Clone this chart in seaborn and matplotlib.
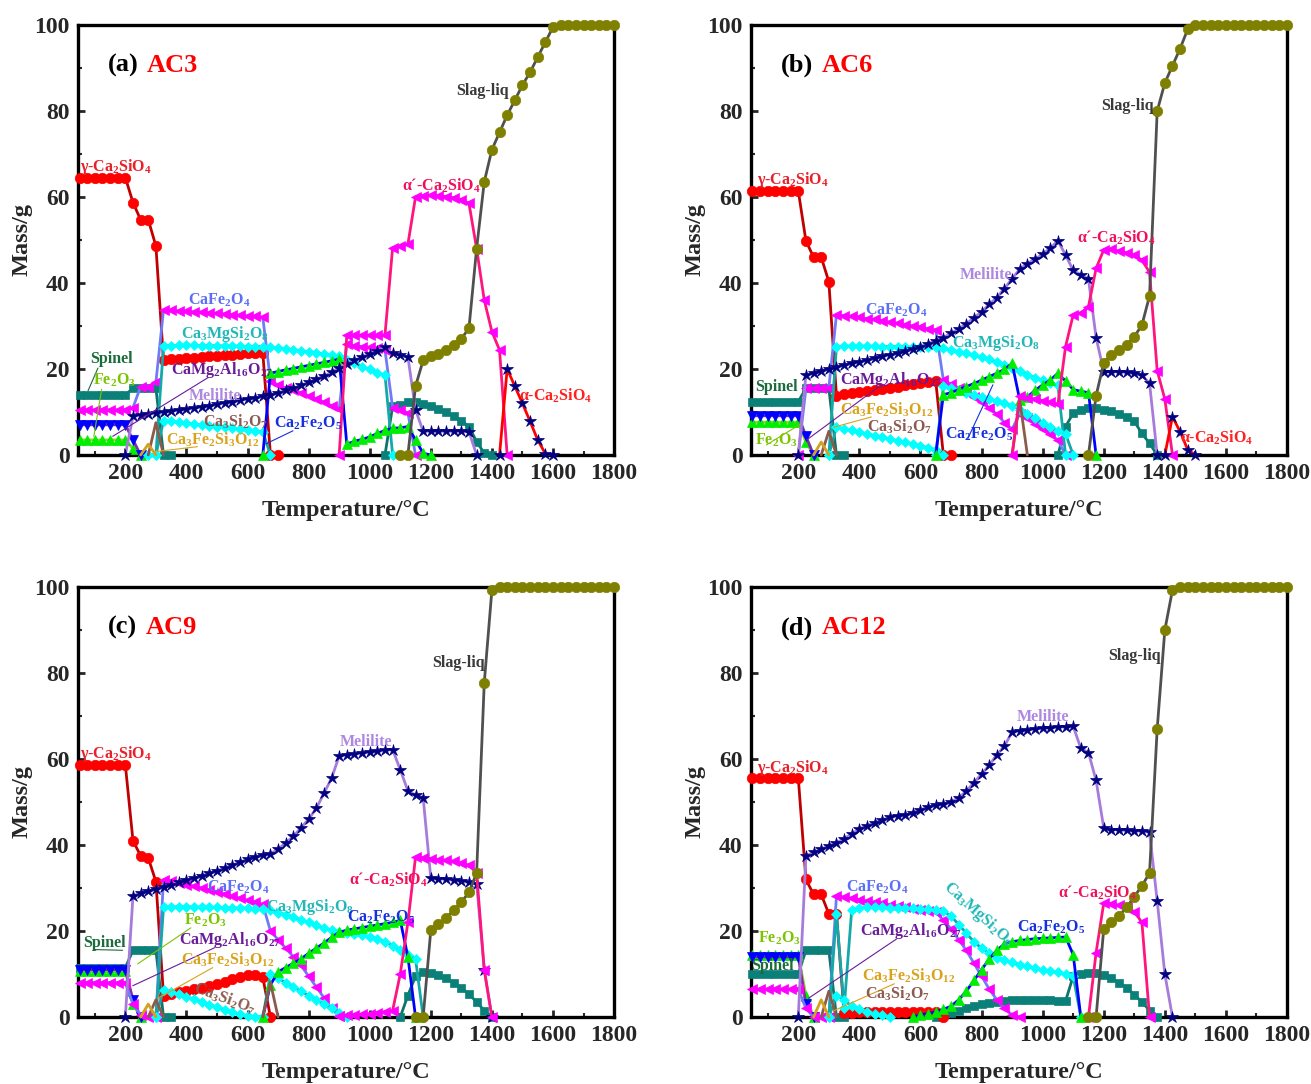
import matplotlib
matplotlib.use('Agg')
import matplotlib.pyplot as plt
from matplotlib.ticker import MultipleLocator
import seaborn as sns

sns.set_theme(style='ticks')
plt.rcParams['font.family'] = ['Liberation Serif', 'DejaVu Serif']
plt.rcParams['font.weight'] = 'bold'
plt.rcParams['mathtext.fontset'] = 'custom'
plt.rcParams['mathtext.rm'] = 'Liberation Serif:bold'
plt.rcParams['mathtext.it'] = 'Liberation Serif:bold:italic'
plt.rcParams['mathtext.bf'] = 'Liberation Serif:bold'
plt.rcParams['mathtext.default'] = 'rm'

STEP = 25  # temperature step of the calculated points, degC

# ---------------- (a) AC3 ----------------
A_GAMMA = [(50, [64.5, 64.5, 64.5, 64.5, 64.5, 64.5, 64.5, 58.7, 54.7, 54.7, 48.6,
                 22.0, 22.2, 22.4, 22.5, 22.6, 22.8, 22.9, 23.0, 23.2, 23.3, 23.5, 23.6, 23.7, 23.8, 0, 0])]
A_CAFE = [(50, [10.5, 10.5, 10.5, 10.5, 10.5, 10.5, 10.5, 11.0, 15.9, 15.9, 16.9,
                33.7, 33.6, 33.5, 33.4, 33.3, 33.2, 33.0, 32.9, 32.8, 32.6, 32.5, 32.3, 32.2, 32.0,
                17.3, 16.3, 15.5, 15.0, 14.5, 13.8, 13.0, 12.3, 11.5, 10.8,
                25.7, 25.4, 25.2, 25.0, 24.8, 24.4, 11.0, 10.5, 9.8, 0])]
A_C3MS = [(275, [0, 0, 25.4, 25.4, 25.5, 25.5, 25.5, 25.4, 25.4, 25.4, 25.3, 25.3, 25.3, 25.2, 25.2, 25.2,
                 25.0, 24.9, 24.7, 24.5, 24.2, 24.0, 23.8, 23.5, 23.2, 23.0,
                 22.1, 21.3, 20.5, 19.9, 19.1, 18.6, 0, 0])]
A_C3MS_LOW = [(300, [0, 7.9, 7.8, 7.6, 7.4, 7.2, 7.0, 6.8, 6.6, 6.4, 6.2, 6.0, 5.8, 5.6, 5.4, 0])]
A_SPINEL = [(50, [14.0, 14.0, 14.0, 14.0, 14.0, 14.0, 14.0, 15.5, 15.5, 15.5, 15.5, 0, 0]),
            (1050, [0, 11.3, 11.6, 12.2, 12.2, 11.9, 11.3, 10.7, 9.9, 9.1, 8.0, 6.6, 3.1, 0.4, 0])]
A_FE2O3 = [(50, [3.5, 3.5, 3.5, 3.5, 3.5, 3.5, 3.5, 1.5, 0])]
A_CMA = [(50, [7.0, 7.0, 7.0, 7.0, 7.0, 7.0, 7.0, 3.5, 0])]
A_MEL = [(200, [0, 9.0, 9.3, 9.5, 9.8, 10.0, 10.2, 10.4, 10.6, 10.9, 11.2, 11.5, 11.8, 12.1, 12.4, 12.7, 13.0, 13.3, 13.6,
                14.0, 14.5, 15.0, 15.5, 16.2, 16.9, 17.6, 18.4, 19.2, 20.3,
                21.2, 22.0, 22.8, 23.5, 24.2, 25.0, 23.6, 23.2, 22.8, 10.5,
                5.5, 5.5, 5.5, 5.5, 5.5, 5.5, 5.4, 0])]
A_C2F = [(650, [0, 19.0, 19.4, 19.8, 20.1, 20.5, 20.8, 21.2, 21.5, 21.9, 22.3,
                2.5, 3.2, 3.6, 4.2, 5.0, 5.7, 6.2, 6.3, 6.6, 3.5, 0.4, 0])]
A_ALP = [(900, [0, 27.8, 27.8, 27.8, 27.8, 27.8, 27.9, 48.2, 48.6, 49.0,
                60.0, 60.3, 60.4, 60.3, 60.1, 59.8, 59.4, 58.5, 48.0, 36.0, 28.7, 24.4, 0])]
A_ALPHA = [(1425, [0, 20.0, 16.0, 12.0, 7.8, 3.5, 0.3, 0])]
A_SLAG = [(1100, [0, 0, 16.0, 22.0, 23.0, 23.5, 24.5, 25.6, 27.0, 29.5,
                  48.0, 63.5, 71.0, 75.0, 79.0, 82.5, 86.0, 89.0, 92.5, 96.0, 99.5,
                  100, 100, 100, 100, 100, 100, 100, 100])]
A_C3S2 = [(275, [0, 7.5, 0])]
A_C3F2S3 = [(250, [0, 2.5, 0])]

# ---------------- (b) AC6 ----------------
B_GAMMA = [(50, [61.4, 61.4, 61.4, 61.4, 61.4, 61.4, 61.4, 49.8, 46.0, 46.0, 40.3,
                 13.8, 14.1, 14.3, 14.6, 14.8, 15.1, 15.3, 15.6, 15.9, 16.2, 16.5, 16.7, 17.0, 17.2, 0, 0])]
B_CAFE = [(200, [0, 15.5, 15.5, 15.6, 15.6,
                 32.6, 32.4, 32.2, 32.0, 31.7, 31.5, 31.2, 30.9, 30.6, 30.3, 30.0, 29.7, 29.4, 29.1,
                 17.4, 16.5, 15.6, 14.7, 13.5, 12.3, 11.0, 9.5, 7.5, 6.0,
                 9.6, 8.5, 7.3, 6.0, 4.8, 3.5, 0])]
B_C3MS = [(300, [0, 25.2, 25.3, 25.3, 25.3, 25.3, 25.3, 25.2, 25.2, 25.2, 25.1, 25.1, 25.0, 25.0, 25.0,
                 24.8, 24.4, 24.0, 23.6, 23.2, 22.7, 22.2, 21.6, 21.0, 20.3,
                 19.5, 18.7, 18.0, 17.4, 16.8, 16.2, 0])]
B_C3MS_LOW = [(300, [0, 6.5, 6.1, 5.7, 5.3, 4.9, 4.5, 4.1, 3.7, 3.3, 2.9, 2.5, 2.1, 1.7, 1.2, 0])]
B_C3MS_LOW2 = [(650, [0, 16.0, 15.5, 15.0, 14.5, 14.0, 13.5, 13.0, 12.5, 12.0, 11.5,
                      10.5, 9.5, 8.5, 7.5, 6.5, 5.5, 4.9, 0])]
B_SPINEL = [(50, [12.4, 12.4, 12.4, 12.4, 12.4, 12.4, 12.4, 15.5, 15.5, 15.5, 15.5, 0, 0]),
            (1050, [0, 6.6, 9.7, 10.5, 10.9, 10.9, 10.5, 10.2, 9.5, 8.8, 7.8, 5.0, 2.7, 0])]
B_FE2O3 = [(50, [7.6, 7.6, 7.6, 7.6, 7.6, 7.6, 7.6, 3.0, 0])]
B_CMA = [(50, [9.1, 9.1, 9.1, 9.1, 9.1, 9.1, 9.1, 4.4, 0])]
B_MEL = [(200, [0, 18.6, 19.1, 19.6, 20.1, 20.5, 20.9, 21.3, 21.7, 22.1, 22.5, 22.9, 23.3, 23.7, 24.1, 24.6, 25.2, 25.9, 26.6,
                27.3, 28.3, 29.3, 30.5, 31.9, 33.3, 35.0, 36.6, 38.7, 41.0,
                43.2, 44.5, 45.5, 46.7, 48.1, 49.8, 46.5, 42.9, 41.9, 40.9, 27.3,
                19.4, 19.4, 19.3, 19.2, 19.0, 18.5, 16.7, 0])]
B_C2F = [(650, [0, 14.0, 14.5, 15.2, 15.9, 16.6, 17.4, 18.2, 19.0, 19.9, 21.3,
                12.8, 13.5, 15.0, 16.3, 17.4, 19.0, 17.2, 15.2, 14.8, 14.5, 0])]
B_ALP = [(900, [0, 13.6, 13.3, 13.0, 12.6, 12.2, 11.8, 25.2, 32.6, 33.0, 34.5,
                43.4, 47.7, 47.8, 47.4, 47.0, 46.5, 45.3, 42.5, 19.6, 13.0, 0])]
B_ALPHA = [(1400, [0, 8.9, 5.4, 1.2, 0])]
B_SLAG = [(1150, [0, 13.8, 21.4, 23.3, 24.3, 25.6, 27.5, 30.2, 37.0,
                  80.0, 86.5, 90.5, 94.5, 99.0,
                  100, 100, 100, 100, 100, 100, 100, 100, 100, 100, 100, 100, 100])]
B_C3S2 = [(275, [0, 5.5, 0]), (900, [0, 12.8, 0])]
B_C3F2S3 = [(250, [0, 3.0, 0])]

# ---------------- (c) AC9 ----------------
C_GAMMA = [(50, [58.6, 58.6, 58.6, 58.6, 58.6, 58.6, 58.6, 41.0, 37.5, 37.0, 31.5,
                 5.0, 5.3, 5.7, 6.0, 6.4, 6.8, 7.2, 7.7, 8.2, 8.8, 9.3, 9.7, 9.7, 9.2, 0])]
C_CAFE = [(50, [8.0, 8.0, 8.0, 8.0, 8.0, 8.0, 8.0, 3.0, 0.5, 0, 0,
                31.9, 31.6, 31.2, 30.8, 30.4, 30.0, 29.6, 29.1, 28.6, 28.1, 27.6, 27.1, 26.7, 26.2,
                20.0, 18.0, 16.0, 14.0, 12.0, 9.5, 7.0, 4.5, 2.0, 0.3])]
C_C3MS = [(300, [0, 25.5, 25.6, 25.6, 25.6, 25.6, 25.5, 25.5, 25.5, 25.4, 25.4, 25.3, 25.3, 25.2, 25.2,
                 24.8, 24.3, 23.8, 23.2, 22.6, 22.0, 21.3, 20.7, 20.2, 19.8,
                 19.5, 19.2, 19.0, 18.7, 18.2, 17.5, 16.6, 15.6, 14.5, 13.5, 0])]
C_C3MS_LOW = [(300, [0, 6.3, 5.8, 5.3, 4.7, 4.1, 3.5, 2.9, 2.3, 1.7, 1.1, 0.6, 0.3, 0.1, 0])]
C_C3MS_LOW2 = [(650, [0, 10.0, 9.0, 8.0, 7.0, 6.0, 5.0, 4.0, 3.0, 2.0, 1.0, 0])]
C_SPINEL = [(50, [11.5, 11.5, 11.5, 11.5, 11.5, 11.5, 11.5, 15.5, 15.5, 15.5, 15.5, 0, 0]),
            (1100, [0, 5.0, 9.5, 10.5, 10.3, 9.8, 9.0, 8.0, 6.8, 5.3, 3.5, 1.5, 0])]
C_FE2O3 = [(50, [10.6, 10.6, 10.6, 10.6, 10.6, 10.6, 10.6, 3.0, 0])]
C_CMA = [(50, [11.0, 11.0, 11.0, 11.0, 11.0, 11.0, 11.0, 4.0, 0])]
C_MEL = [(200, [0, 28.2, 28.8, 29.3, 29.8, 30.3, 30.8, 31.3, 31.8, 32.3, 32.8, 33.4, 34.0, 34.6, 35.3, 36.0, 36.7, 37.2, 37.6,
                38.0, 39.0, 40.5, 42.0, 44.0, 46.0, 48.5, 52.0, 55.5, 60.7,
                61.0, 61.2, 61.4, 61.6, 61.8, 62.0, 62.2, 57.5, 52.6, 51.6, 51.0,
                32.3, 32.2, 32.0, 31.8, 31.6, 31.3, 31.0, 11.0, 0])]
C_C2F = [(650, [0, 7.5, 10.5, 11.5, 12.5, 13.5, 14.8, 16.0, 17.2, 18.5, 19.7,
                20.2, 20.5, 20.8, 21.1, 21.4, 21.7, 22.0, 22.5, 14.0, 0])]
C_ALP = [(900, [0.3, 0.4, 0.5, 0.6, 0.8, 1.0, 1.2, 1.5, 10.0, 22.0, 37.2,
                37.0, 36.8, 36.6, 36.4, 36.2, 35.8, 35.3, 33.5, 11.0, 0])]
C_SLAG = [(1150, [0, 0, 20.2, 21.6, 23.0, 24.8, 26.7, 29.0, 33.5, 77.7, 99.3,
                  100, 100, 100, 100, 100, 100, 100, 100, 100, 100, 100, 100, 100, 100, 100, 100])]
C_C3S2 = [(275, [0, 4.0, 0]), (650, [0, 8.0, 0])]
C_C3F2S3 = [(250, [0, 3.0, 0])]

# ---------------- (d) AC12 ----------------
D_GAMMA = [(50, [55.6, 55.6, 55.6, 55.6, 55.6, 55.6, 55.6, 32.0, 28.5, 28.5, 24.0, 24.0,
                 1.0, 1.0, 1.1, 1.1, 1.1, 1.2, 1.2, 1.2, 1.2, 1.2, 1.2, 1.2, 1.2, 0])]
D_CAFE = [(50, [6.5, 6.5, 6.5, 6.5, 6.5, 6.5, 6.5, 2.0, 0, 0, 0,
                28.2, 27.9, 27.6, 27.3, 27.0, 26.7, 26.4, 26.1, 25.8, 25.5, 25.2, 24.9, 24.7, 24.4,
                22.5, 20.5, 18.0, 15.5, 12.5, 9.5, 6.5, 4.0, 2.0, 0.5, 0])]
D_C3MS = [(300, [0, 24.0, 2.0, 25.0, 25.4, 25.5, 25.5, 25.5, 25.4, 25.4, 25.3, 25.3, 25.2, 25.1, 24.9,
                 24.6, 23.5, 21.5, 19.5, 17.5, 16.0, 14.8, 13.8, 13.2, 12.7,
                 12.2, 11.8, 11.4, 11.0, 10.7, 10.4, 10.0, 9.5, 0])]
D_C3MS_LOW = [(300, [0, 5.0, 4.0, 2.5, 1.8, 1.2, 0.8, 0.4, 0])]
D_SPINEL = [(50, [10.0, 10.0, 10.0, 10.0, 10.0, 10.0, 10.0, 15.5, 15.5, 15.5, 15.5, 0, 0]),
            (650, [0, 0.5, 1.0, 1.5, 2.0, 2.5, 3.0, 3.3, 3.6, 3.8, 4.0, 4.0, 4.0, 4.0, 4.0, 3.9, 3.8,
                   3.7, 9.5, 10.0, 10.3, 10.2, 9.8, 9.0, 8.0, 6.8, 5.2, 3.5, 1.5, 0])]
D_FE2O3 = [(50, [14.5, 14.5, 14.5, 14.5, 14.5, 14.5, 14.5, 5.0, 0])]
D_CMA = [(50, [14.0, 14.0, 14.0, 14.0, 14.0, 14.0, 14.0, 3.0, 0])]
D_MEL = [(200, [0, 37.5, 38.3, 39.0, 39.8, 40.5, 41.5, 42.5, 43.8, 44.5, 45.2, 45.8, 46.5, 46.8, 47.0, 47.5, 48.2, 48.8, 49.2,
                49.5, 50.0, 51.0, 52.5, 54.5, 56.5, 58.5, 61.0, 63.0, 66.3,
                66.6, 66.8, 67.0, 67.1, 67.3, 67.4, 67.5, 67.6, 62.5, 61.5, 55.0,
                44.0, 43.6, 43.5, 43.4, 43.3, 43.2, 43.0, 27.0, 10.0, 0])]
D_C2F = [(575, [0, 0.5, 0.8, 1.2, 1.8, 2.5, 4.0, 6.0, 8.5, 11.0, 13.5, 15.5, 17.0, 17.5,
                17.8, 18.0, 18.2, 18.3, 18.4, 18.5, 18.6, 14.5, 0])]
D_ALP = [(1150, [0, 15.0, 26.5, 26.3, 26.0, 25.5, 24.5, 22.0, 0])]
D_SLAG = [(1150, [0, 0, 20.5, 22.0, 23.5, 25.5, 28.0, 30.5, 33.5, 67.0, 90.0, 99.3,
                  100, 100, 100, 100, 100, 100, 100, 100, 100, 100, 100, 100, 100, 100, 100])]
D_C3S2 = [(275, [0, 6.0, 0])]
D_C3F2S3 = [(250, [0, 4.0, 0])]

# line colour, marker, marker colour, marker size, zorder
STYLE = {
    'spinel': ('#0E7468', 's', '#0B8078', 6.0, 3),
    'fe2o3': ('#9ACD32', '^', '#00EE00', 7.0, 3),
    'cma': ('#7B2FA0', 'v', '#0000FF', 7.0, 3),
    'gamma': ('#C00000', 'o', '#FF0000', 7.5, 4),
    'cafe': ('#6F7BF7', '<', '#FF00FF', 7.5, 4),
    'c3ms': ('#14A8A8', 'D', '#00FFFF', 5.5, 4),
    'c2f': ('#0000FF', '^', '#00EE00', 7.0, 5),
    'mel': ('#A77BDB', '*', '#000080', 9.0, 5),
    'c3s2': ('#8B5A4B', None, None, 0, 5),
    'c3f2s3': ('#D4A020', None, None, 0, 5),
    'alp': ('#FF1480', '<', '#FF00FF', 7.5, 6),
    'alpha': ('#FF0000', '*', '#000080', 9.0, 6),
    'slag': ('#505050', 'o', '#808000', 7.5, 7),
}

PANELS = {
    'a': {'spinel': [A_SPINEL], 'fe2o3': [A_FE2O3], 'cma': [A_CMA], 'gamma': [A_GAMMA], 'cafe': [A_CAFE],
          'c3ms': [A_C3MS, A_C3MS_LOW], 'c2f': [A_C2F], 'mel': [A_MEL], 'c3s2': [A_C3S2],
          'c3f2s3': [A_C3F2S3], 'alp': [A_ALP], 'alpha': [A_ALPHA], 'slag': [A_SLAG]},
    'b': {'spinel': [B_SPINEL], 'fe2o3': [B_FE2O3], 'cma': [B_CMA], 'gamma': [B_GAMMA], 'cafe': [B_CAFE],
          'c3ms': [B_C3MS, B_C3MS_LOW, B_C3MS_LOW2], 'c2f': [B_C2F], 'mel': [B_MEL], 'c3s2': [B_C3S2],
          'c3f2s3': [B_C3F2S3], 'alp': [B_ALP], 'alpha': [B_ALPHA], 'slag': [B_SLAG]},
    'c': {'spinel': [C_SPINEL], 'fe2o3': [C_FE2O3], 'cma': [C_CMA], 'gamma': [C_GAMMA], 'cafe': [C_CAFE],
          'c3ms': [C_C3MS, C_C3MS_LOW, C_C3MS_LOW2], 'c2f': [C_C2F], 'mel': [C_MEL], 'c3s2': [C_C3S2],
          'c3f2s3': [C_C3F2S3], 'alp': [C_ALP], 'slag': [C_SLAG]},
    'd': {'spinel': [D_SPINEL], 'fe2o3': [D_FE2O3], 'cma': [D_CMA], 'gamma': [D_GAMMA], 'cafe': [D_CAFE],
          'c3ms': [D_C3MS, D_C3MS_LOW], 'c2f': [D_C2F], 'mel': [D_MEL], 'c3s2': [D_C3S2],
          'c3f2s3': [D_C3F2S3], 'alp': [D_ALP], 'slag': [D_SLAG]},
}

TITLES = {'a': 'AC3', 'b': 'AC6', 'c': 'AC9', 'd': 'AC12'}

LC = {
    'gamma': '#E8202A', 'slag': '#3A3A3A', 'alp': '#F0105A', 'cafe': '#5B6EF5', 'c3ms': '#22B8B8',
    'spinel': '#1C6B3C', 'fe2o3': '#7CC400', 'cma': '#6A1B9A', 'mel': '#AE88E0', 'c3s2': '#8C5A50',
    'c2f': '#1530E0', 'c3f2s3': '#D9A21B', 'alpha': '#FF2020',
}
NAMES = {
    'gamma': 'γ-Ca$_2$SiO$_4$', 'slag': 'Slag-liq', 'alp': 'α´-Ca$_2$SiO$_4$', 'cafe': 'CaFe$_2$O$_4$',
    'c3ms': 'Ca$_3$MgSi$_2$O$_8$', 'spinel': 'Spinel', 'fe2o3': 'Fe$_2$O$_3$', 'cma': 'CaMg$_2$Al$_{16}$O$_{27}$',
    'mel': 'Melilite', 'c3s2': 'Ca$_3$Si$_2$O$_7$', 'c2f': 'Ca$_2$Fe$_2$O$_5$', 'c3f2s3': 'Ca$_3$Fe$_2$Si$_3$O$_{12}$',
    'alpha': 'α-Ca$_2$SiO$_4$',
}
# label key, x, y, ha, rotation, pointer end (or None)
LABELS = {
    'a': [('gamma', 52, 67, 'left', 0, None), ('slag', 1456, 84.7, 'right', 0, None),
          ('alp', 1233, 62.6, 'center', 0, None), ('cafe', 508, 36, 'center', 0, None),
          ('c3ms', 528, 28.1, 'center', 0, None), ('spinel', 154, 22.3, 'center', 0, (74, 14.3)),
          ('fe2o3', 164, 17.4, 'center', 0, (95, 3.6)), ('cma', 518, 19.8, 'center', 0, (151, 4)),
          ('mel', 492, 13.7, 'center', 0, None), ('c3s2', 560, 7.7, 'center', 0, None),
          ('c2f', 797, 7.4, 'center', 0, (652, 2.3)), ('c3f2s3', 485, 3.5, 'center', 0, (289, 0.7)),
          ('alpha', 1610, 13.7, 'center', 0, None)],
    'b': [('gamma', 66, 64, 'left', 0, None), ('slag', 1278, 81.2, 'center', 0, None),
          ('mel', 814, 41.9, 'center', 0, None), ('alp', 1242, 50.5, 'center', 0, None),
          ('cafe', 520, 33.7, 'center', 0, None), ('c3ms', 847, 26, 'center', 0, None),
          ('spinel', 128, 15.8, 'center', 0, None), ('cma', 504, 17.4, 'center', 0, (220, 3.1)),
          ('c3f2s3', 488, 10.5, 'center', 0, (308, 6.3)), ('c3s2', 533, 6.5, 'center', 0, None),
          ('c2f', 791, 4.7, 'center', 0, (841, 16.9)), ('fe2o3', 128, 3.5, 'center', 0, (215, 7.5)),
          ('alpha', 1570, 4, 'center', 0, None)],
    'c': [('gamma', 52, 61.2, 'left', 0, None), ('slag', 1292, 82.3, 'center', 0, None),
          ('mel', 987, 64, 'center', 0, None), ('alp', 1062, 31.9, 'center', 0, None),
          ('cafe', 571, 30.2, 'center', 0, None), ('c3ms', 806, 25.6, 'center', 0, None),
          ('c2f', 1036, 23.3, 'center', 0, None), ('fe2o3', 462, 22.6, 'center', 0, (233, 12)),
          ('spinel', 131, 17.2, 'center', 0, (200, 15.5)), ('cma', 541, 17.9, 'center', 0, (216, 7)),
          ('c3f2s3', 534, 13.3, 'center', 0, (298, 4)), ('c3s2', 525, 4.4, 'center', -20, None)],
    'd': [('gamma', 66, 58, 'left', 0, None), ('slag', 1301, 84, 'center', 0, None),
          ('mel', 1000, 69.8, 'center', 0, None), ('alp', 1180, 28.8, 'center', 0, None),
          ('cafe', 458, 30.2, 'center', 0, None), ('c3ms', 791, 24, 'center', -42, None),
          ('c2f', 1027, 20.9, 'center', 0, None), ('fe2o3', 138, 18.4, 'center', 0, None),
          ('cma', 569, 20, 'center', 0, (226, 4)), ('spinel', 115, 11.9, 'center', 0, None),
          ('c3f2s3', 563, 9.5, 'center', 0, (308, 1.2)), ('c3s2', 524, 5.3, 'center', 0, None)],
}

AX_POS = {'a': [0.0595, 0.5803, 0.4089, 0.3967], 'b': [0.5728, 0.5803, 0.4089, 0.3967],
          'c': [0.0595, 0.0618, 0.4089, 0.3967], 'd': [0.5728, 0.0618, 0.4089, 0.3967]}

fig = plt.figure(figsize=(13.11, 10.84), dpi=100)

for p in ['a', 'b', 'c', 'd']:
    ax = fig.add_axes(AX_POS[p])
    for key, series_list in PANELS[p].items():
        line, mk, mc, ms, z = STYLE[key]
        for segs in series_list:
            for t0, vals in segs:
                temps = [t0 + STEP * i for i in range(len(vals))]
                kw = dict(color=line, linewidth=2.0, zorder=z, clip_on=False)
                if mk is not None:
                    kw.update(marker=mk, markerfacecolor=mc, markeredgecolor=mc,
                              markersize=ms, markeredgewidth=0.5)
                sns.lineplot(x=temps, y=vals, ax=ax, estimator=None, sort=False,
                             legend=False, **kw)
    for key, x, y, ha, rot, ptr in LABELS[p]:
        ax.text(x, y, NAMES[key], color=LC[key], fontsize=11.5, fontweight='bold',
                ha=ha, va='center', rotation=rot, zorder=10)
        if ptr is not None:
            ax.annotate('', xy=ptr, xytext=(x - 40 if ha == 'center' else x, y - 1.5),
                        arrowprops=dict(arrowstyle='-', color=LC[key], lw=0.8), zorder=9)
    ax.set_xlim(45, 1800)
    ax.set_ylim(0, 100)
    ax.xaxis.set_major_locator(MultipleLocator(200))
    ax.xaxis.set_minor_locator(MultipleLocator(100))
    ax.yaxis.set_major_locator(MultipleLocator(20))
    ax.yaxis.set_minor_locator(MultipleLocator(10))
    ax.set_xticks([200, 400, 600, 800, 1000, 1200, 1400, 1600, 1800])
    ax.tick_params(which='major', direction='in', length=5, width=2, labelsize=17, pad=6,
                   top=False, right=False)
    ax.tick_params(which='minor', direction='in', length=3, width=1.5, top=False, right=False)
    for lab in ax.get_xticklabels() + ax.get_yticklabels():
        lab.set_fontweight('bold')
    for s in ax.spines.values():
        s.set_linewidth(2.4)
        s.set_color('black')
    ax.set_xlabel('Temperature/°C', fontsize=17.5, fontweight='bold')
    ax.set_ylabel('Mass/g', fontsize=17.5, fontweight='bold')
    ax.xaxis.set_label_coords(0.5, -0.105)
    ax.yaxis.set_label_coords(-0.085, 0.5)
    t1 = ax.text(0.056, 0.905, '(%s)' % p, transform=ax.transAxes, fontsize=19,
                 fontweight='bold', color='black', ha='left', va='center', zorder=11)
    ax.annotate(TITLES[p], xy=(1, 0.5), xycoords=t1, xytext=(6, 0), textcoords='offset points',
                fontsize=19, fontweight='bold', color='#FF0000', ha='left', va='center', zorder=11)

fig.savefig('out.png', dpi=100)
